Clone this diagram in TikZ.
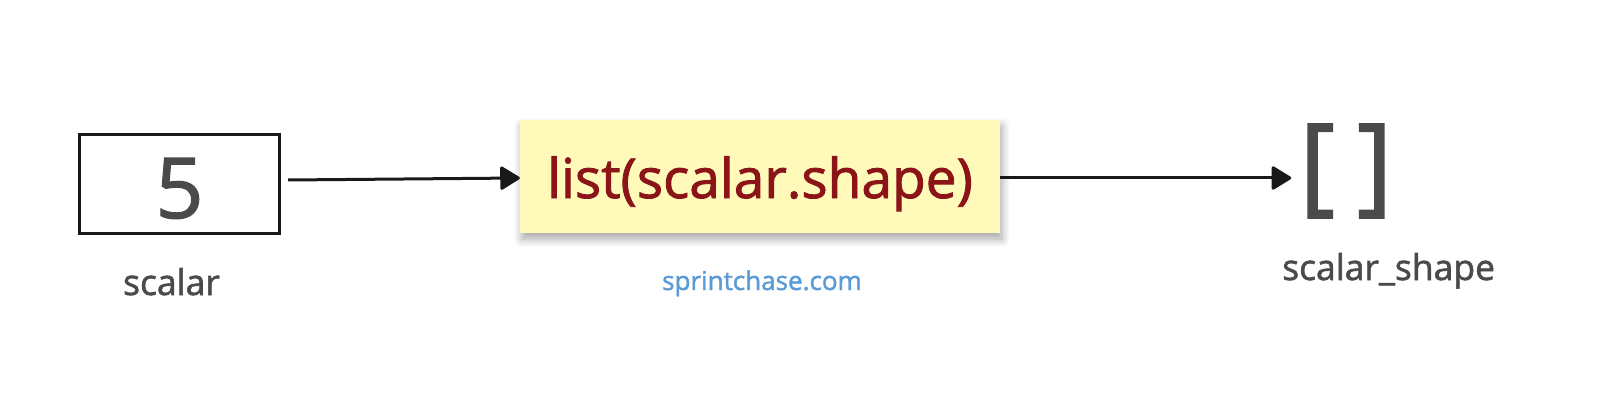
\documentclass[tikz,border=0pt]{standalone}
\usepackage{fontspec}
\setmainfont{Open Sans}
\newfontfamily\semib{Open Sans}[FakeBold=1.6]
\usetikzlibrary{arrows.meta,shadows.blur}

\definecolor{txtgray}{HTML}{4A4A4A}
\definecolor{fnred}{HTML}{8A1418}
\definecolor{fnyellow}{HTML}{FFFAB9}
\definecolor{webblue}{HTML}{5B9BD5}

\tikzset{
  flow/.style={line width=3pt, draw=black!90, -{Triangle[length=21pt,width=25pt,round]}},
  valbox/.style={draw=black!90, line width=3pt, inner sep=0pt, minimum width=200pt,
    text height=83.5pt, text depth=15.5pt, text=txtgray, font=\semib\fontsize{84}{90}\selectfont},
  fnbox/.style={fill=fnyellow, inner sep=0pt, minimum width=480pt,
    text height=78pt, text depth=35pt, text=fnred, font=\semib\fontsize{55}{60}\selectfont,
    blur shadow={shadow xshift=2pt, shadow yshift=-6pt, shadow blur steps=8, shadow blur radius=8pt, shadow opacity=35}},
  caption/.style={anchor=base, text=txtgray, inner sep=0pt, font=\semib\fontsize{35.5}{40}\selectfont}
}

\begin{document}
\begin{tikzpicture}[x=1pt,y=-1pt]
\useasboundingbox (0,0) rectangle (1621,406);

% input value
\node[valbox] (scalar) at (179.5,184) {5};
\node[caption] (scalarlbl) at (171.5,295) {scalar};

% function call
\node[fnbox] (fn) at (760,176.5) {list(scalar.shape)};
\node[caption, text=webblue, font=\semib\fontsize{26}{30}\selectfont] (site) at (762,290) {sprintchase.com};

% result
\node[text=txtgray, inner sep=0pt, font=\semib\fontsize{108}{110}\selectfont] (result) at (1346,171) {[\hspace{22pt}]};
\node[caption, anchor=base west] (resultlbl) at (1282,280) {scalar\_shape};

\draw[flow] ([shift={(7,-4)}]scalar.east) -- ([yshift=-1.5]fn.west);
\draw[flow, shorten >=8pt] ([yshift=-1.5]fn.east) -- ([yshift=-7]result.west);
\end{tikzpicture}
\end{document}
